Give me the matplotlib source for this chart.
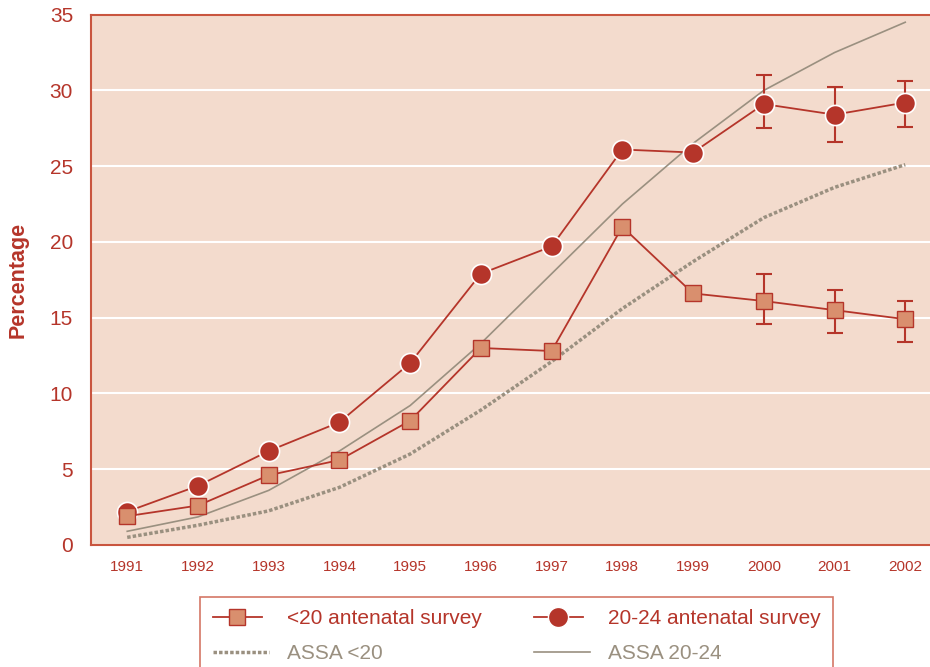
import numpy as np
import matplotlib.pyplot as plt
from matplotlib.lines import Line2D
from matplotlib.legend_handler import HandlerLine2D

plt.rcParams['font.family'] = ['Liberation Sans', 'DejaVu Sans']

years = [1991, 1992, 1993, 1994, 1995, 1996, 1997, 1998, 1999, 2000, 2001, 2002]
under20 = [1.9, 2.6, 4.6, 5.6, 8.2, 13.0, 12.8, 21.0, 16.6, 16.1, 15.5, 14.9]
age20_24 = [2.2, 3.9, 6.2, 8.1, 12.0, 17.9, 19.7, 26.1, 25.9, 29.1, 28.4, 29.2]
assa_under20 = [0.5, 1.3, 2.25, 3.8, 6.0, 8.9, 12.1, 15.6, 18.7, 21.6, 23.6, 25.1]
assa_20_24 = [0.9, 1.85, 3.6, 6.2, 9.2, 13.3, 17.9, 22.5, 26.5, 30.0, 32.5, 34.5]

# error bars only for 2000-2002
err_years = [2000, 2001, 2002]
under20_lo = [14.6, 14.0, 13.4]
under20_hi = [17.9, 16.8, 16.1]
age20_24_lo = [27.5, 26.6, 27.6]
age20_24_hi = [31.0, 30.2, 30.6]

red = '#b5352a'
salmon = '#d98f6e'
grey = '#9a9080'
bg = '#f3dbcd'


class EndMarker(HandlerLine2D):
    # legend marker sits at the right end of the handle line
    def get_xdata(self, legend, xdescent, ydescent, width, height, fontsize):
        return [-xdescent, -xdescent + width - 5], [-xdescent + width - 5]


fig = plt.figure(figsize=(9.3, 6.67), dpi=100)
ax = fig.add_axes([0.098, 0.183, 0.902, 0.795])
ax.set_facecolor(bg)

ax.plot(years, assa_20_24, color=grey, lw=1.2, zorder=2)
ax.plot(years, assa_under20, color=grey, lw=2.5, ls=(0, (1, 0.6)), zorder=2)

u_mid = under20[-3:]
ax.errorbar(err_years, u_mid,
            yerr=[np.subtract(u_mid, under20_lo), np.subtract(under20_hi, u_mid)],
            fmt='none', ecolor=red, elinewidth=1.5, capsize=6, capthick=1.5, zorder=3)
a_mid = age20_24[-3:]
ax.errorbar(err_years, a_mid,
            yerr=[np.subtract(a_mid, age20_24_lo), np.subtract(age20_24_hi, a_mid)],
            fmt='none', ecolor=red, elinewidth=1.5, capsize=6, capthick=1.5, zorder=3)

ax.plot(years, age20_24, color=red, lw=1.3, marker='o', ms=14.5,
        mfc=red, mec='white', mew=1.2, zorder=4)
ax.plot(years, under20, color=red, lw=1.3, marker='s', ms=11.5,
        mfc=salmon, mec=red, mew=1.0, zorder=5)

ax.set_xlim(1990.49, 2002.35)
ax.set_ylim(0, 35)
ax.set_xticks(years)
ax.set_yticks(range(0, 36, 5))
ax.grid(axis='y', color='white', lw=1.5)
ax.set_axisbelow(True)
ax.tick_params(length=0)
ax.tick_params(axis='y', labelsize=15, labelcolor=red, pad=13)
ax.tick_params(axis='x', labelsize=11, labelcolor=red, pad=11)
for s in ['left', 'bottom', 'top']:
    ax.spines[s].set_color('#c9553f')
    ax.spines[s].set_linewidth(1.5)
ax.spines['right'].set_visible(False)
ax.set_ylabel('Percentage', fontsize=15.5, fontweight='bold', color=red, labelpad=15)

sq = Line2D([], [], color=red, lw=1.3, marker='s', ms=11.5, mfc=salmon, mec=red)
dot = Line2D([], [], color=red, lw=1.3, marker='o', ms=14.5, mfc=red, mec='white')
handles = [sq, Line2D([], [], color=grey, lw=2.5, ls=(0, (1, 0.6))),
           dot, Line2D([], [], color=grey, lw=1.2)]
labels = ['<20 antenatal survey', 'ASSA <20', '20-24 antenatal survey', 'ASSA 20-24']
leg = fig.legend(handles, labels, ncol=2, loc='upper left',
                 bbox_to_anchor=(0.204, 0.121), fontsize=15, frameon=True,
                 fancybox=False, edgecolor='#c9553f', handlelength=2.7,
                 columnspacing=2.5, handletextpad=0.85, borderpad=0.6, labelspacing=0.75,
                 handler_map={sq: EndMarker(), dot: EndMarker()})
leg.get_frame().set_linewidth(1.2)
for t, c in zip(leg.get_texts(), [red, grey, red, grey]):
    t.set_color(c)

fig.savefig('out.png', dpi=100)
